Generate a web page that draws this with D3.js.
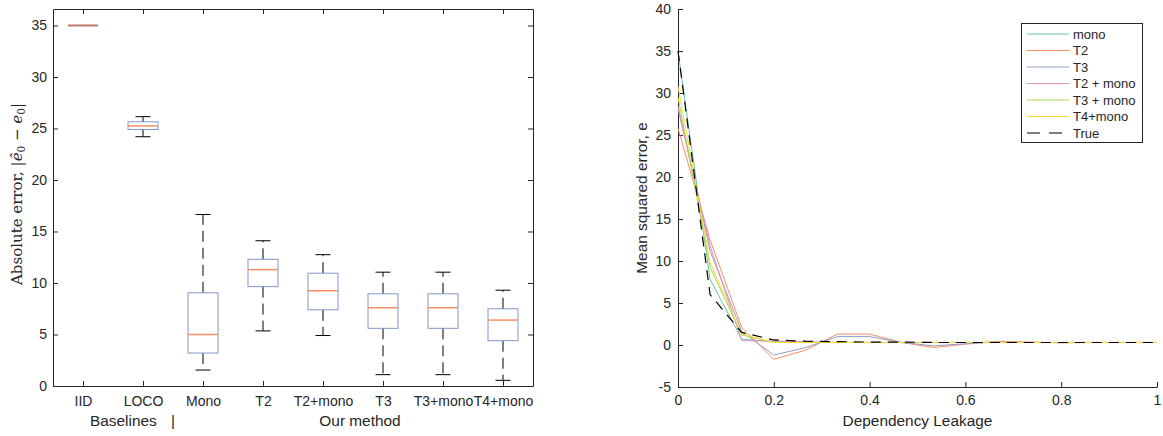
<!DOCTYPE html>
<html><head><meta charset="utf-8">
<script src="https://cdn.jsdelivr.net/npm/d3@7"></script>
<style>
body{margin:0;background:#fff;}
text{font-family:"Liberation Sans",Arial,Helvetica,sans-serif;fill:#262626;}
</style></head>
<body><svg id="chart" width="1163" height="436"></svg>
<script>
// ---------- Left chart data (box plot) ----------
const boxCategories = ["IID","LOCO","Mono","T2","T2+mono","T3","T3+mono","T4+mono"];
const whiskerLow  = [35.0, 24.2, 1.55, 5.35, 4.9, 1.1, 1.1, 0.55];
const boxLow      = [35.0, 24.9, 3.2, 9.65, 7.4, 5.6, 5.6, 4.4];
const boxMedian   = [35.0, 25.25, 5.0, 11.3, 9.25, 7.6, 7.6, 6.4];
const boxHigh     = [35.0, 25.65, 9.05, 12.3, 10.95, 8.95, 8.95, 7.5];
const whiskerHigh = [35.0, 26.15, 16.65, 14.1, 12.75, 11.05, 11.05, 9.3];
const leftYTicks = [0,5,10,15,20,25,30,35];

// ---------- Right chart data (lines) ----------
const leakage = [0, 0.067, 0.133, 0.2, 0.267, 0.333, 0.4, 0.467, 0.533, 0.6, 0.667, 0.733, 0.8, 0.867, 0.933, 1];
const seriesNames = ["mono","T2","T3","T2 + mono","T3 + mono","T4+mono","True"];
const monoVals    = [35.0, 7.8, 0.7, 0.4, 0.35, 0.3, 0.3, 0.3, 0.3, 0.3, 0.3, 0.3, 0.3, 0.3, 0.3, 0.3];
const t2Vals      = [25.8, 12.5, 2.1, -1.7, -0.6, 1.3, 1.3, 0.3, -0.3, 0.1, 0.45, 0.35, 0.25, 0.3, 0.3, 0.3];
const t3Vals      = [28.5, 11.2, 1.6, -1.2, -0.3, 1.0, 1.0, 0.3, -0.1, 0.15, 0.35, 0.3, 0.3, 0.3, 0.3, 0.3];
const t2monoVals  = [28.1, 11.8, 0.5, 0.5, 0.35, 0.3, 0.3, 0.3, 0.3, 0.3, 0.3, 0.3, 0.3, 0.3, 0.3, 0.3];
const t3monoVals  = [29.5, 9.3, 1.2, 0.3, 0.3, 0.3, 0.3, 0.3, 0.3, 0.3, 0.3, 0.3, 0.3, 0.3, 0.3, 0.3];
const t4monoVals  = [30.8, 9.8, 1.3, 0.3, 0.3, 0.3, 0.3, 0.3, 0.3, 0.3, 0.3, 0.3, 0.3, 0.3, 0.3, 0.3];
const trueVals    = [35.0, 6.0, 1.5, 0.6, 0.45, 0.4, 0.35, 0.35, 0.3, 0.3, 0.3, 0.3, 0.3, 0.3, 0.3, 0.3];
const rightXTicks = [0,0.2,0.4,0.6,0.8,1];
const rightYTicks = [-5,0,5,10,15,20,25,30,35,40];

const svg = d3.select("#chart");
const axisColor = "#262626";

function styleAxis(g){
  g.selectAll("path.domain").attr("stroke", axisColor);
  g.selectAll(".tick line").attr("stroke", axisColor);
  g.selectAll(".tick text").attr("fill", "#262626").style("font-size","14px")
    .style("font-family",'"Liberation Sans",Arial,sans-serif');
}

// ================= LEFT CHART =================
const L = {x0:53, x1:533, y0:9, y1:386};
const xL = d3.scaleLinear().domain([0.5, 8.5]).range([L.x0, L.x1]);
const yL = d3.scaleLinear().domain([0, 36.6]).range([L.y1, L.y0]);
const gL = svg.append("g");

gL.append("g").attr("transform",`translate(0,${L.y1})`)
  .call(d3.axisBottom(xL).tickValues(d3.range(1,9)).tickFormat((d,i)=>boxCategories[i]).tickSizeInner(-5).tickSizeOuter(0).tickPadding(10))
  .call(styleAxis);
gL.append("g").attr("transform",`translate(0,${L.y0})`)
  .call(d3.axisTop(xL).tickValues(d3.range(1,9)).tickFormat("").tickSizeInner(-5).tickSizeOuter(0))
  .call(styleAxis);
gL.append("g").attr("transform",`translate(${L.x0},0)`)
  .call(d3.axisLeft(yL).tickValues(leftYTicks).tickFormat(d3.format("d")).tickSizeInner(-5).tickSizeOuter(0).tickPadding(6))
  .call(styleAxis);
gL.append("g").attr("transform",`translate(${L.x1},0)`)
  .call(d3.axisRight(yL).tickValues(leftYTicks).tickFormat("").tickSizeInner(-5).tickSizeOuter(0))
  .call(styleAxis);

const boxColor = "#8297cc", medColor = "#fc8d62";
const halfBox = (xL(1.25)-xL(1));
const capHalf = halfBox/2;
boxCategories.forEach((c,i)=>{
  const cx = xL(i+1);
  const g = gL.append("g");
  g.append("line").attr("x1",cx).attr("x2",cx).attr("y1",yL(boxHigh[i])).attr("y2",yL(whiskerHigh[i]))
    .attr("stroke","#000").attr("stroke-width",1).attr("stroke-dasharray","11,6");
  g.append("line").attr("x1",cx).attr("x2",cx).attr("y1",yL(boxLow[i])).attr("y2",yL(whiskerLow[i]))
    .attr("stroke","#000").attr("stroke-width",1).attr("stroke-dasharray","11,6");
  [whiskerHigh[i], whiskerLow[i]].forEach(v=>{
    g.append("line").attr("x1",cx-capHalf).attr("x2",cx+capHalf).attr("y1",yL(v)).attr("y2",yL(v))
      .attr("stroke", i===0 ? "none" : "#000").attr("stroke-width",1);
  });
  g.append("rect").attr("x",cx-halfBox).attr("y",yL(boxHigh[i])).attr("width",2*halfBox)
    .attr("height",Math.max(0,yL(boxLow[i])-yL(boxHigh[i])))
    .attr("fill","none").attr("stroke",boxColor).attr("stroke-width",1);
  g.append("line").attr("x1",cx-halfBox).attr("x2",cx+halfBox).attr("y1",yL(boxMedian[i])).attr("y2",yL(boxMedian[i]))
    .attr("stroke", i===0 ? "#c27868" : medColor).attr("stroke-width", i===0 ? 2 : 1.5);
});

svg.append("text").attr("x",90).attr("y",426).style("font-size","15.4px").text("Baselines");
svg.append("text").attr("x",173).attr("y",426).attr("text-anchor","middle").style("font-size","15.4px").style("font-weight","300").text("|");
svg.append("text").attr("x",360).attr("y",426).attr("text-anchor","middle").style("font-size","15.4px").text("Our method");

const yLab = svg.append("text").attr("transform","translate(22,194) rotate(-90)").attr("text-anchor","middle")
  .style("font-family",'"DejaVu Serif","Liberation Serif",serif').style("font-size","15px");
yLab.append("tspan").text("Absolute error, |");
yLab.append("tspan").style("font-style","italic").text("ê");
yLab.append("tspan").attr("baseline-shift","-25%").style("font-size","10.5px").text("0");
yLab.append("tspan").text(" − ");
yLab.append("tspan").style("font-style","italic").text("e");
yLab.append("tspan").attr("baseline-shift","-25%").style("font-size","10.5px").text("0");
yLab.append("tspan").text("|");

// ================= RIGHT CHART =================
const R = {x0:678, x1:1157, y0:9, y1:387};
const xR = d3.scaleLinear().domain([0,1]).range([R.x0,R.x1]);
const yR = d3.scaleLinear().domain([-5,40]).range([R.y1,R.y0]);
const gR = svg.append("g");

gR.append("g").attr("transform",`translate(0,${R.y1})`)
  .call(d3.axisBottom(xR).tickValues(rightXTicks).tickFormat(d=>String(d)).tickSizeInner(-5).tickSizeOuter(0).tickPadding(8))
  .call(styleAxis);
gR.append("g").attr("transform",`translate(${R.x0},0)`)
  .call(d3.axisLeft(yR).tickValues(rightYTicks).tickFormat(d=>String(d)).tickSizeInner(-5).tickSizeOuter(0).tickPadding(7))
  .call(styleAxis);

const seriesVals = [monoVals,t2Vals,t3Vals,t2monoVals,t3monoVals,t4monoVals,trueVals];
const seriesColors = ["#66c2a5","#fc8d62","#8da0cb","#e78ac3","#a6d854","#ffd92f","#000000"];
const line = d3.line().x((d,i)=>xR(leakage[i])).y(d=>yR(d));
seriesVals.forEach((vals,k)=>{
  gR.append("path").datum(vals).attr("d",line).attr("fill","none")
    .attr("stroke",seriesColors[k]).attr("stroke-width", k===6 ? 1.2 : 1)
    .attr("stroke-dasharray", k===6 ? "10,7" : null);
});

svg.append("text").attr("x",(R.x0+R.x1)/2).attr("y",426).attr("text-anchor","middle").style("font-size","15.4px").text("Dependency Leakage");
svg.append("text").attr("transform",`translate(647,${(R.y0+R.y1)/2}) rotate(-90)`).attr("text-anchor","middle").style("font-size","15.4px").text("Mean squared error, e");

const leg = svg.append("g");
leg.append("rect").attr("x",1021.5).attr("y",23.5).attr("width",121).attr("height",119)
  .attr("fill","#fff").attr("stroke","#262626").attr("stroke-width",1);
seriesNames.forEach((n,k)=>{
  const ly = 34 + k*16.5;
  leg.append("line").attr("x1",1027).attr("x2",1069).attr("y1",ly).attr("y2",ly)
    .attr("stroke",seriesColors[k]).attr("stroke-width",k===6?1.2:1).attr("stroke-dasharray",k===6?"13,9":null);
  leg.append("text").attr("x",1073).attr("y",ly).attr("dy","0.35em").style("font-size","13px").text(n);
});
</script>
</body></html>
